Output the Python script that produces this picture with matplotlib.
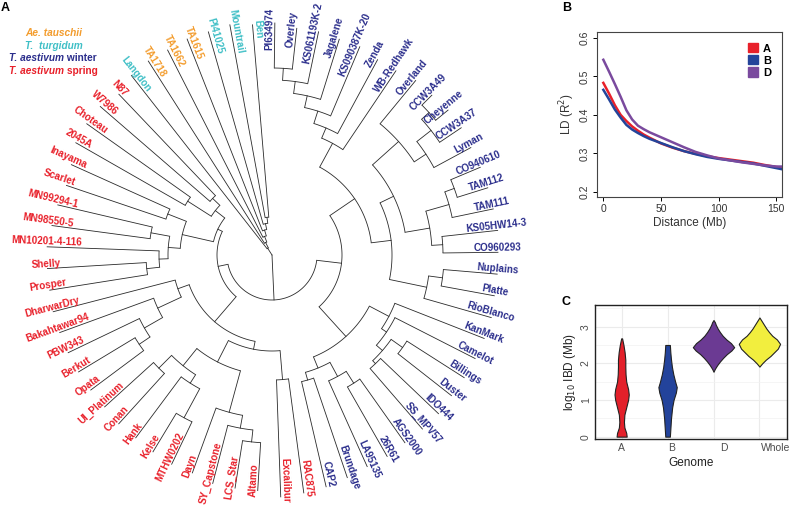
import numpy as np
import matplotlib.pyplot as plt
from matplotlib.patches import Patch
from matplotlib.transforms import ScaledTranslation

plt.rcParams['font.family'] = ['Liberation Sans', 'DejaVu Sans']

# ---------------- panel A: fan dendrogram ----------------
# tips listed clockwise, starting just right of 12 o'clock
LEAVES = ["PI634974", "Overley", "KS061193K-2", "Jagalene", "KS090387K-20", "Zenda",
          "WB-Redhawk", "Overland", "CCW3A49", "Cheyenne", "CCW3A37", "Lyman", "CO940610",
          "TAM112", "TAM111", "KS05HW14-3", "CO960293", "Nuplains", "Platte", "RioBlanco",
          "KanMark", "Camelot", "Billings", "Duster", "IDO444", "SS_MPV57", "AGS2000",
          "26R61", "LA95135", "Brundage", "CAP2", "RAC875", "Excalibur", "Altamo",
          "LCS_Star", "SY_Capstone", "Dayn", "MTHW0202", "Kelse", "Hank", "Conan",
          "UI_Platinum", "Opata", "Berkut", "PBW343", "Bakahtawar94", "DharwarDry",
          "Prosper", "Shelly", "MN10201-4-116", "MN98550-5", "MN99294-1", "Scarlet",
          "Inayama", "2045A", "Choteau", "W7986", "N87", "Langdon", "TA1718", "TA1662",
          "TA1615", "PI41025", "Mountrail", "Ben"]
# branch tip distance from the root (px)
TIP_R = [232, 228, 228, 226, 226, 222, 222, 226, 226, 228, 228, 226, 226,
         226, 226, 227, 226, 226, 226, 228, 228, 228, 228, 228, 230, 230, 230,
         232, 232, 235, 238, 240, 242, 236, 236, 236, 232, 232, 230, 228, 228,
         226, 226, 226, 226, 226, 226, 225, 225, 225, 222, 220, 217, 220, 226,
         227, 227, 222, 228, 230, 230, 232, 232, 234, 231]
LABEL_R = 226   # labels are centred on this radius

TAUSCHII = ["TA1718", "TA1662", "TA1615"]
TURGIDUM = ["Langdon", "PI41025", "Mountrail", "Ben"]
SPRING = ["RAC875", "Excalibur", "Altamo", "LCS_Star", "SY_Capstone", "Dayn", "MTHW0202",
          "Kelse", "Hank", "Conan", "UI_Platinum", "Opata", "Berkut", "PBW343",
          "Bakahtawar94", "DharwarDry", "Prosper", "Shelly", "MN10201-4-116", "MN98550-5",
          "MN99294-1", "Scarlet", "Inayama", "2045A", "Choteau", "W7986", "N87"]

# clades as (node distance from root, child, child, ...)
W_TOP = (127, (138, (151, (163, (175, (187, "PI634974", "Overley"), "KS061193K-2"),
                               "Jagalene"), "KS090387K-20"), "Zenda"), "WB-Redhawk")
W_CCW = (170, "Overland", (184, (202, (212, "CCW3A49", "Cheyenne"), "CCW3A37"), "Lyman"))
W_TAM = (160, (184, (194, "CO940610", "TAM112"), "TAM111"), (171, "KS05HW14-3", "CO960293"))
W_PL = (158, (172, "Nuplains", "Platte"), "RioBlanco")
W_KAN = (132, "KanMark", (138, "Camelot", (146, (160, "Billings", "Duster"),
                                          (150, "IDO444", "SS_MPV57"))))
W_LA = (122, (138, "LA95135", (152, "AGS2000", "26R61")), (130, "Brundage", "CAP2"))
S_TOP = (60, (72, (82, "N87", "W7986"), (100, "Choteau", "2045A")),
         (92, (112, "Inayama", "Scarlet"),
          (104, (123, "MN99294-1", "MN98550-5"),
           (113, "MN10201-4-116", (126, "Shelly", "Prosper")))))
S_BOT = (88, (100, "DharwarDry", (126, "Bakahtawar94", (147, "PBW343", (160, "Berkut", "Opata")))),
         (96, (120, (142, (160, "UI_Platinum", "Conan"), (152, "Hank", (185, "Kelse", "MTHW0202"))),
               (163, "Dayn", (176, "SY_Capstone", (188, "LCS_Star", "Altamo")))),
          (125, "Excalibur", "RAC875")))
OUTGROUP = (8, (14, (20, (26, (32, (38, "Ben", "Mountrail"), "PI41025"), "TA1615"),
                     "TA1662"), "TA1718"), "Langdon")
TREE = (0, OUTGROUP,
        (45, (55, S_TOP, S_BOT),
         (70, (100, W_TOP, (120, (135, W_CCW, W_TAM), W_PL)), (110, W_KAN, W_LA))))

START_ANG = 89.3
STEP = 360.0 / len(LEAVES)

C_TAU, C_TUR, C_WIN, C_SPR = "#F39C2D", "#3FBFC6", "#2B2E8C", "#E8202A"
LINE_C = "#2a2a2a"


def leaf_colour(name):
    if name in TAUSCHII:
        return C_TAU
    if name in TURGIDUM:
        return C_TUR
    if name in SPRING:
        return C_SPR
    return C_WIN


fig = plt.figure(figsize=(7.91, 5.19), dpi=100)
ax = fig.add_axes([0, 0, 1, 1])
cx, cy = 272, 255
ax.set_xlim(-cx, 791 - cx)
ax.set_ylim(-(519 - cy), cy)
ax.axis("off")


def xy(r, a):
    t = np.deg2rad(a)
    return r * np.cos(t), r * np.sin(t)


def draw(node):
    """draw clade, return (angle, radius) of its node"""
    if isinstance(node, str):
        i = LEAVES.index(node)
        return START_ANG - STEP * i, TIP_R[i]
    r = node[0]
    kids = [draw(k) for k in node[1:]]
    angs = [k[0] for k in kids]
    a0, a1 = min(angs), max(angs)
    if r > 0:
        t = np.linspace(a0, a1, 60)
        ax.plot(*xy(r, t), color=LINE_C, lw=0.6, solid_capstyle="butt")
    for a, rk in kids:
        x0, y0 = xy(r, a)
        x1, y1 = xy(rk, a)
        ax.plot([x0, x1], [y0, y1], color=LINE_C, lw=0.6)
    return (a0 + a1) / 2, r


draw(TREE)

for i, name in enumerate(LEAVES):
    a = START_ANG - STEP * i
    an = (a + 180) % 360 - 180
    x, y = xy(LABEL_R, a)
    rot = an if -90 < an <= 90 else an - 180
    ax.text(x, y, name, rotation=rot, ha="center", va="bottom", rotation_mode="anchor",
            fontsize=7.1, fontweight="bold", color=leaf_colour(name))

# group key
kw = dict(fontsize=7.3, fontweight="bold", transform=ax.transAxes)
ax.text(54 / 791, 1 - 33 / 519, "Ae. tauschii", color=C_TAU, style="italic", ha="center", va="center", **kw)
ax.text(54 / 791, 1 - 46 / 519, "T.  turgidum", color=C_TUR, style="italic", ha="center", va="center", **kw)
t1 = ax.text(9 / 791, 1 - 58 / 519, "T. aestivum", color=C_WIN, style="italic", ha="left", va="center", **kw)
ax.annotate(" winter", xy=(1, 0.5), xycoords=t1, va="center", ha="left",
            color=C_WIN, fontsize=7.3, fontweight="bold")
t2 = ax.text(9 / 791, 1 - 71 / 519, "T. aestivum", color=C_SPR, style="italic", ha="left", va="center", **kw)
ax.annotate(" spring", xy=(1, 0.5), xycoords=t2, va="center", ha="left",
            color=C_SPR, fontsize=7.3, fontweight="bold")

fig.text(1 / 791, 1 - 8 / 519, "A", fontsize=9, fontweight="bold", va="center")
fig.text(562 / 791, 1 - 8 / 519, "B", fontsize=9, fontweight="bold", va="center")
fig.text(562 / 791, 1 - 302 / 519, "C", fontsize=9, fontweight="bold", va="center")

# ---------------- panel B: LD decay ----------------
DIST = [0, 5, 10, 15, 20, 25, 30, 35, 40, 50, 60, 70, 80, 90, 100, 110, 120, 130, 140, 150, 155]
LD_A = [0.483, 0.455, 0.425, 0.400, 0.384, 0.370, 0.359, 0.349, 0.341, 0.326, 0.315, 0.306,
        0.299, 0.293, 0.288, 0.284, 0.280, 0.276, 0.270, 0.265, 0.263]
LD_B = [0.465, 0.440, 0.414, 0.393, 0.374, 0.362, 0.353, 0.345, 0.338, 0.327, 0.316, 0.306,
        0.298, 0.291, 0.286, 0.282, 0.278, 0.274, 0.268, 0.262, 0.259]
LD_D = [0.543, 0.512, 0.480, 0.447, 0.412, 0.388, 0.372, 0.363, 0.355, 0.342, 0.329, 0.316,
        0.304, 0.295, 0.287, 0.282, 0.277, 0.273, 0.269, 0.266, 0.266]
LD_COL = {"A": "#E8202A", "B": "#24449A", "D": "#7A4A9E"}

axb = fig.add_axes([597 / 791, 1 - 197 / 519, 185 / 791, 165 / 519])
for k, v in [("A", LD_A), ("B", LD_B), ("D", LD_D)]:
    axb.plot(DIST, v, color=LD_COL[k], lw=1.8)
axb.set_xlim(-5.5, 155)
axb.set_ylim(0.187, 0.615)
axb.set_xticks([0, 50, 100, 150])
axb.set_yticks([0.2, 0.3, 0.4, 0.5, 0.6])
axb.tick_params(direction="out", length=3, width=0.7, labelsize=7.5, labelcolor="#333333", pad=2)
for lab in axb.get_yticklabels():
    lab.set_rotation(90)
    lab.set_va("center")
for s in axb.spines.values():
    s.set_linewidth(0.8)
    s.set_color("#444444")
axb.set_xlabel("Distance (Mb)", fontsize=8.5, labelpad=2, color="#333333")
axb.set_ylabel("LD (R$^2$)", fontsize=8.5, labelpad=2, color="#333333")
axb.legend(handles=[Patch(color=LD_COL[k], label=k) for k in "ABD"], loc="upper right",
           frameon=False, handlelength=0.9, handleheight=0.9, handletextpad=0.4,
           labelspacing=0.15, borderaxespad=0.6, prop={"weight": "bold", "size": 8})

# ---------------- panel C: IBD violins ----------------
GENOMES = ["A", "B", "D", "Whole"]
VIO_COL = ["#E3202A", "#23439B", "#6B3A93", "#F2EE3E"]
A_Y = [0.0, 0.1, 0.25, 0.4, 0.6, 0.8, 1.0, 1.15, 1.3, 1.5, 1.7, 1.9, 2.1, 2.3, 2.5, 2.68]
A_W = [0.11, 0.10, 0.06, 0.05, 0.06, 0.10, 0.14, 0.155, 0.14, 0.10, 0.085, 0.08, 0.08, 0.065, 0.04, 0.01]
B_Y = [0.0, 0.2, 0.5, 0.8, 1.0, 1.2, 1.35, 1.5, 1.7, 1.9, 2.1, 2.3, 2.5]
B_W = [0.05, 0.06, 0.075, 0.10, 0.13, 0.18, 0.20, 0.165, 0.125, 0.095, 0.075, 0.06, 0.05]
D_Y = [1.77, 1.85, 1.95, 2.05, 2.15, 2.25, 2.35, 2.44, 2.55, 2.65, 2.75, 2.85, 2.95, 3.05, 3.12, 3.18]
D_W = [0.0, 0.03, 0.08, 0.14, 0.21, 0.29, 0.39, 0.45, 0.38, 0.28, 0.20, 0.14, 0.09, 0.05, 0.03, 0.0]
WH_Y = [1.91, 2.0, 2.1, 2.2, 2.3, 2.4, 2.53, 2.65, 2.75, 2.85, 2.95, 3.05, 3.15, 3.25]
WH_W = [0.0, 0.06, 0.14, 0.24, 0.32, 0.40, 0.45, 0.38, 0.28, 0.21, 0.15, 0.10, 0.05, 0.0]

axc = fig.add_axes([595 / 791, 1 - 439 / 519, 192 / 791, 134 / 519])
axc.set_xlim(0.42, 4.6)
axc.set_ylim(-0.064, 3.59)
axc.set_yticks([0, 1, 2, 3])
axc.set_yticks([0.5, 1.5, 2.5, 3.5], minor=True)
axc.set_xticks([1, 2, 3, 4])
axc.set_xticklabels(GENOMES)
axc.grid(True, which="major", color="#EBEBEB", lw=0.8)
axc.grid(True, which="minor", axis="y", color="#F2F2F2", lw=0.5)
axc.set_axisbelow(True)
for i, (yy, ww) in enumerate([(A_Y, A_W), (B_Y, B_W), (D_Y, D_W), (WH_Y, WH_W)]):
    yy, ww = np.array(yy), np.array(ww)
    axc.fill_betweenx(yy, i + 1 - ww, i + 1 + ww, facecolor=VIO_COL[i],
                      edgecolor="#222222", lw=0.8)
axc.tick_params(which="both", length=0, labelsize=7.5, labelcolor="#4D4D4D", pad=3)
for lab in axc.get_yticklabels():
    lab.set_rotation(90)
    lab.set_va("center")
for lab, dx in zip(axc.get_xticklabels(), [0, 4, 10, 16]):
    lab.set_transform(lab.get_transform() + ScaledTranslation(dx / 100, 0, fig.dpi_scale_trans))
for s in axc.spines.values():
    s.set_linewidth(1.0)
    s.set_color("#222222")
axc.set_xlabel("Genome", fontsize=8.5, labelpad=3, color="#222222")
axc.set_ylabel("log$_{10}$ IBD (Mb)", fontsize=8.5, labelpad=2, color="#222222")

fig.savefig("out.png", dpi=100)
